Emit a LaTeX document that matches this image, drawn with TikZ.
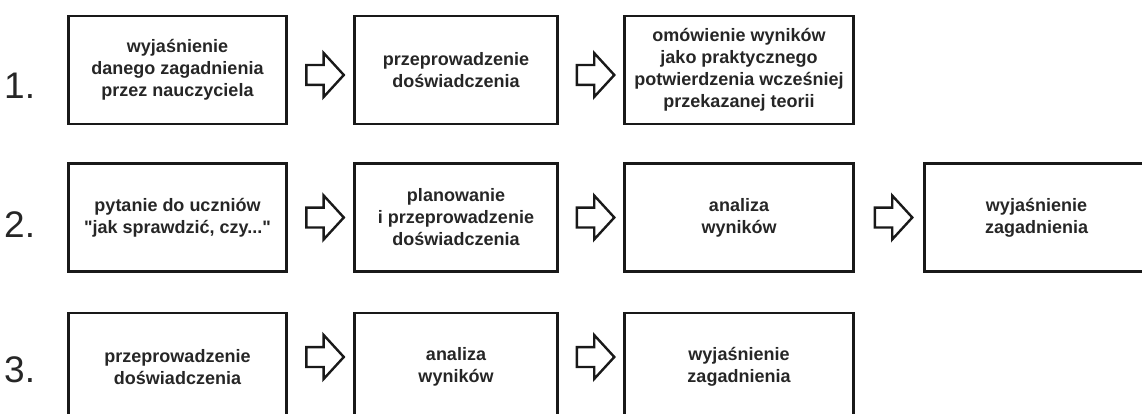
\documentclass[tikz,border=0pt]{standalone}
\usepackage{fontspec}
\setmainfont{Liberation Sans}
\newfontfamily\boxfont{Liberation Sans}
\usetikzlibrary{calc}
\usetikzlibrary{shapes.arrows}

\begin{document}
\begin{tikzpicture}[x=1pt, y=-1pt,
    stepbox/.style={draw=black!90, line width=2.8pt, align=center, inner sep=0pt,
      minimum height=108pt, text=black!85, font=\boxfont\fontsize{18}{22}\selectfont\bfseries},
    numlabel/.style={anchor=west, inner sep=0pt, text=black!85, font=\fontsize{37}{40}\selectfont},
    blockarrow/.style={single arrow, draw=black!90, line width=2.4pt, inner xsep=0pt,
      inner ysep=8.75pt, minimum height=37.5pt, single arrow head extend=12pt,
      single arrow tip angle=95}]
      \useasboundingbox (0,0) rectangle (1142,414);

      % row 1
      \node[numlabel] (n1) at (4,86) {1.};
      \node[stepbox, minimum width=218pt] (b11) at (177.5,70) {wyjaśnienie\\danego zagadnienia\\przez nauczyciela};
      \node[stepbox, minimum width=203pt] (b12) at (456,70) {przeprowadzenie\\doświadczenia};
      \node[stepbox, minimum width=229pt] (b13) at (739,70) {omówienie wyników\\jako praktycznego\\potwierdzenia wcześniej\\przekazanej teorii};
      \node[blockarrow] (p11) at ($(b11.east)!.5!(b12.west)+(0,5)$) {};
      \node[blockarrow] (p12) at ($(b12.east)!.5!(b13.west)+(0,5)$) {};

      % row 2
      \node[numlabel] (n2) at (4,225) {2.};
      \node[stepbox, minimum width=218pt] (b21) at (177.5,217.5) {pytanie do uczniów\\"jak sprawdzić, czy..."};
      \node[stepbox, minimum width=203pt] (b22) at (456,217.5) {planowanie\\i przeprowadzenie\\doświadczenia};
      \node[stepbox, minimum width=229pt] (b23) at (739,217.5) {analiza\\wyników};
      \node[stepbox, minimum width=224pt] (b24) at (1036.5,217.5) {wyjaśnienie\\zagadnienia};
      \node[blockarrow] (p21) at ($(b21.east)!.5!(b22.west)$) {};
      \node[blockarrow] (p22) at ($(b22.east)!.5!(b23.west)$) {};
      \node[blockarrow] (p23) at ($(b23.east)!.5!(b24.west)$) {};

      % row 3
      \node[numlabel] (n3) at (4,370) {3.};
      \node[stepbox, minimum width=218pt] (b31) at (177.5,367) {przeprowadzenie\\doświadczenia};
      \node[stepbox, minimum width=203pt] (b32) at (456,367) {analiza\\wyników};
      \node[stepbox, minimum width=229pt] (b33) at (739,367) {wyjaśnienie\\zagadnienia};
      \node[blockarrow] (p31) at ($(b31.east)!.5!(b32.west)+(0,-10)$) {};
      \node[blockarrow] (p32) at ($(b32.east)!.5!(b33.west)+(0,-10)$) {};
    \end{tikzpicture}
\end{document}
